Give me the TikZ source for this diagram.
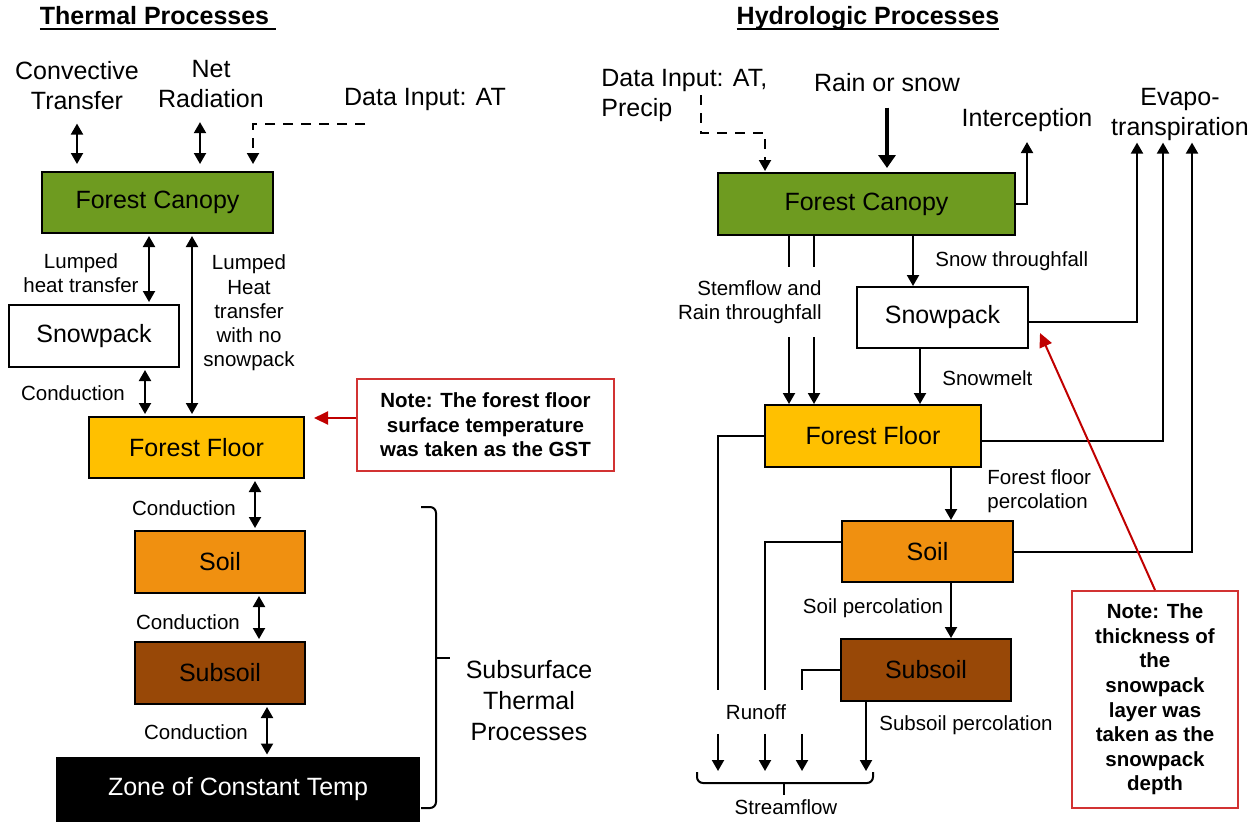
\documentclass[tikz,border=0pt]{standalone}
\usepackage{fontspec}
\setmainfont{Liberation Sans}
\usetikzlibrary{arrows.meta}
\tikzset{>={Triangle[length=5.5pt,width=6pt]}}

\definecolor{canopygreen}{RGB}{110,155,32}
\definecolor{floorgold}{RGB}{255,192,0}
\definecolor{soilorange}{RGB}{240,144,16}
\definecolor{subsoilbrown}{RGB}{152,72,7}
\definecolor{noteline}{RGB}{210,50,50}
\definecolor{notearrow}{RGB}{192,0,0}

\newcommand\bigtxt{\fontsize{12.5}{15}\selectfont}
\newcommand\smalltxt{\fontsize{10.25}{12.25}\selectfont}
\newcommand\titleline[1]{\setbox0\hbox{#1}\rlap{\rule[-3pt]{\wd0}{1.2pt}}\box0}

\begin{document}
\begin{tikzpicture}[x=0.5pt, y=-0.5pt]
      \tikzstyle{pbox} = [draw=black, line width=1pt, rectangle, inner sep=0pt, font=\bigtxt]
      \tikzstyle{blab} = [inner sep=1pt, align=center, font=\bigtxt]
      \tikzstyle{slab} = [inner sep=1pt, align=center, font=\smalltxt]
      \tikzstyle{nbox} = [draw=noteline, line width=1pt, rectangle, inner sep=0pt, align=center, font=\smalltxt\bfseries]
      \tikzstyle{flow} = [line width=1pt, ->]
      \tikzstyle{link} = [line width=1pt, <->, shorten <=1pt, shorten >=1pt]
      \tikzstyle{dsh} = [line width=1pt, ->, dash pattern=on 5pt off 4pt]
      \tikzstyle{redarr} = [line width=1pt, notearrow, -{Triangle[length=7pt,width=6.5pt]}]
      \tikzstyle{brc} = [line width=1pt, rounded corners=3pt]

      \useasboundingbox (0,0) rectangle (1256,821);

      %%%%%%%%%%%%%%%%%%%%%%%%%%%%%%
      %% Thermal processes
      %%%%%%%%%%%%%%%%%%%%%%%%%%%%%%
      \node[blab, font=\bigtxt\bfseries] (tTitle) at (158,18) {\titleline{Thermal Processes\ }};

      \node[blab] (lConv) at (77,86) {Convective\\Transfer};
      \node[blab] (lNet) at (211,84) {Net\\Radiation};
      \node[blab] (lData) at (425,99) {Data Input: AT};

      \node[pbox, fill=canopygreen, minimum width=115.5pt, minimum height=30.5pt] (canopyL) at (157.5,202.5) {Forest Canopy};
      \node[pbox, fill=white, minimum width=85pt, minimum height=31pt] (snowL) at (94,336) {Snowpack};
      \node[pbox, fill=floorgold, minimum width=107.5pt, minimum height=30.5pt] (floorL) at (196.5,447.5) {Forest Floor};
      \node[pbox, fill=soilorange, minimum width=85pt, minimum height=31pt] (soilL) at (220,562) {Soil};
      \node[pbox, fill=subsoilbrown, minimum width=85pt, minimum height=31pt] (subsoilL) at (220,673) {Subsoil};
      \node[pbox, fill=black, text=white, minimum width=181pt, minimum height=31.5pt] (zoneL) at (238,789) {Zone of Constant Temp};

      \node[nbox, minimum width=128.5pt, minimum height=46pt] (noteL) at (485.5,425) {Note: The forest floor\\surface temperature\\was taken as the GST};

      \node[slab] (lLump) at (81,273) {Lumped\\heat transfer};
      \node[slab, font=\fontsize{10.25}{12.1}\selectfont] (lLumpNo) at (249,313) {Lumped\\Heat\\transfer\\with no\\snowpack};
      \node[slab] (lCond1) at (73,393) {Conduction};
      \node[slab] (lCond2) at (184,508) {Conduction};
      \node[slab] (lCond3) at (188,622) {Conduction};
      \node[slab] (lCond4) at (196,732) {Conduction};
      \node[blab, font=\fontsize{12.5}{15.5}\selectfont] (lSub) at (529,701) {Subsurface\\Thermal\\Processes};

      \coordinate (dInL) at (365,124);
      \coordinate (brTop) at (421,507);

      \draw[line width=1pt, <->, shorten <=5.5pt, shorten >=3.5pt] (lConv.south) -- (lConv.south |- canopyL.north);
      \draw[line width=1pt, <->, shorten <=6pt, shorten >=3.5pt] (lNet.south -| 200,0) -- (canopyL.north -| 200,0);
      \draw[dsh, shorten >=3.5pt] (dInL) -| (canopyL.north -| 253,0);

      \draw[link] (canopyL.south -| 149,0) -- (snowL.north -| 149,0);
      \draw[link] (canopyL.south -| 192,0) -- (floorL.north -| 192,0);
      \draw[link] (snowL.south -| 145,0) -- (floorL.north -| 145,0);
      \draw[link] (floorL.south -| 255,0) -- (soilL.north -| 255,0);
      \draw[link] (soilL.south -| 259,0) -- (subsoilL.north -| 259,0);
      \draw[link] (subsoilL.south -| 267,0) -- (zoneL.north -| 267,0);

      \draw[redarr, shorten >=4.5pt] (noteL.west |- 0,418) -- (floorL.east |- 0,418);

      % brace of the subsurface layers
      \draw[brc] (brTop) -- ++(15,0) -- ++(0,301) -- ++(-15,0);
      \draw[line width=1pt] (brTop) ++(15,150.5) -- ++(14,0);

      %%%%%%%%%%%%%%%%%%%%%%%%%%%%%%
      %% Hydrologic processes
      %%%%%%%%%%%%%%%%%%%%%%%%%%%%%%
      \node[blab, font=\bigtxt\bfseries] (hTitle) at (868,18) {\titleline{Hydrologic Processes}};

      \node[blab, align=left, anchor=west, inner sep=0pt] (lDataR) at (601,95) {Data Input: AT,\\Precip};
      \node[blab] (lRain) at (887,83) {Rain or snow};
      \node[blab] (lInt) at (1027,120) {Interception};
      \node[blab] (lEvap) at (1180,114) {Evapo-\\transpiration};

      \node[pbox, fill=canopygreen, minimum width=148.5pt, minimum height=31pt] (canopyR) at (866.5,204) {Forest Canopy};
      \node[pbox, fill=white, minimum width=85.5pt, minimum height=30.5pt] (snowR) at (942.5,317.5) {Snowpack};
      \node[pbox, fill=floorgold, minimum width=108pt, minimum height=31pt] (floorR) at (873,436) {Forest Floor};
      \node[pbox, fill=soilorange, minimum width=85.5pt, minimum height=30.5pt] (soilR) at (927.5,551.5) {Soil};
      \node[pbox, fill=subsoilbrown, minimum width=85pt, minimum height=31pt] (subsoilR) at (926,670) {Subsoil};

      \node[nbox, minimum width=83pt, minimum height=108.5pt, font=\fontsize{10.25}{12.3}\selectfont\bfseries] (noteR) at (1155,699.5) {Note: The\\thickness of\\the\\snowpack\\layer was\\taken as the\\snowpack\\depth};

      \node[slab, anchor=west] (lSnowT) at (933,261) {Snow throughfall};
      \node[slab, align=right, anchor=east, inner xsep=0pt, inner ysep=6.5pt] (lStem) at (822,302) {Stemflow and\\Rain throughfall};
      \node[slab, anchor=west] (lMelt) at (940,378) {Snowmelt};
      \node[slab, align=left, anchor=west] (lFperc) at (985,491) {Forest floor\\percolation};
      \node[slab] (lSperc) at (873,608) {Soil percolation};
      \node[slab, anchor=west] (lSubperc) at (877,725) {Subsoil percolation};
      \node[slab, inner ysep=7pt] (lRunoff) at (756,712) {Runoff};
      \node[slab] (lStream) at (786,807) {Streamflow};

      \coordinate (dInR) at (701,95);
      \coordinate (sfL) at (697,772);
      \coordinate (sfR) at (873,772);

      % inputs and losses of the canopy
      \draw[dsh, shorten >=0.5pt] (dInR) -- ++(0,38) -| (canopyR.north -| 765,0);
      \draw[line width=2pt, -{Triangle[length=6.5pt,width=8.5pt]}, shorten <=6.5pt, shorten >=2pt] (lRain.south) -- (lRain.south |- canopyR.north);
      \draw[flow, shorten >=4pt] (canopyR.east) -| (lInt.south);

      \draw[flow] ([yshift=-2pt]snowR.east) -| (lEvap.south -| 1137,0);
      \draw[flow] ([yshift=-2.5pt]floorR.east) -| (lEvap.south -| 1163,0);
      \draw[flow] (soilR.east) -| (lEvap.south -| 1192,0);

      % downward water
      \draw[flow] (canopyR.south -| 913,0) -- (snowR.north -| 913,0);
      \draw[line width=1pt] (canopyR.south -| 789,0) -- (lStem.north -| 789,0);
      \draw[line width=1pt] (canopyR.south -| 814,0) -- (lStem.north -| 814,0);
      \draw[flow] (lStem.south -| 789,0) -- (floorR.north -| 789,0);
      \draw[flow] (lStem.south -| 814,0) -- (floorR.north -| 814,0);
      \draw[flow] (snowR.south -| 920,0) -- (floorR.north -| 920,0);
      \draw[flow] (floorR.south -| 951,0) -- (soilR.north -| 951,0);
      \draw[flow] (soilR.south -| 951,0) -- (subsoilR.north -| 951,0);
      \draw[flow, shorten >=0.5pt] (subsoilR.south -| 866,0) -- (sfR -| 866,0);

      % runoff
      \draw[line width=1pt] (floorR.west) -| (lRunoff.north -| 718,0);
      \draw[line width=1pt] ([yshift=5pt]soilR.west) -| (lRunoff.north -| 765,0);
      \draw[line width=1pt] (subsoilR.west) -| (lRunoff.north -| 802,0);
      \draw[flow, shorten >=0.5pt] (lRunoff.south -| 718,0) -- (sfL -| 718,0);
      \draw[flow, shorten >=0.5pt] (lRunoff.south -| 765,0) -- (sfL -| 765,0);
      \draw[flow, shorten >=0.5pt] (lRunoff.south -| 802,0) -- (sfL -| 802,0);

      % brace of the streamflow
      \draw[brc] (sfL) -- ++(0,11) -- ++(176,0) -- (sfR);
      \draw[line width=1pt] (sfL) ++(87,11) -- ++(0,12);

      \draw[redarr] (noteR.north) -- ([xshift=5.5pt,yshift=-7.75pt]snowR.east);

\end{tikzpicture}
\end{document}
